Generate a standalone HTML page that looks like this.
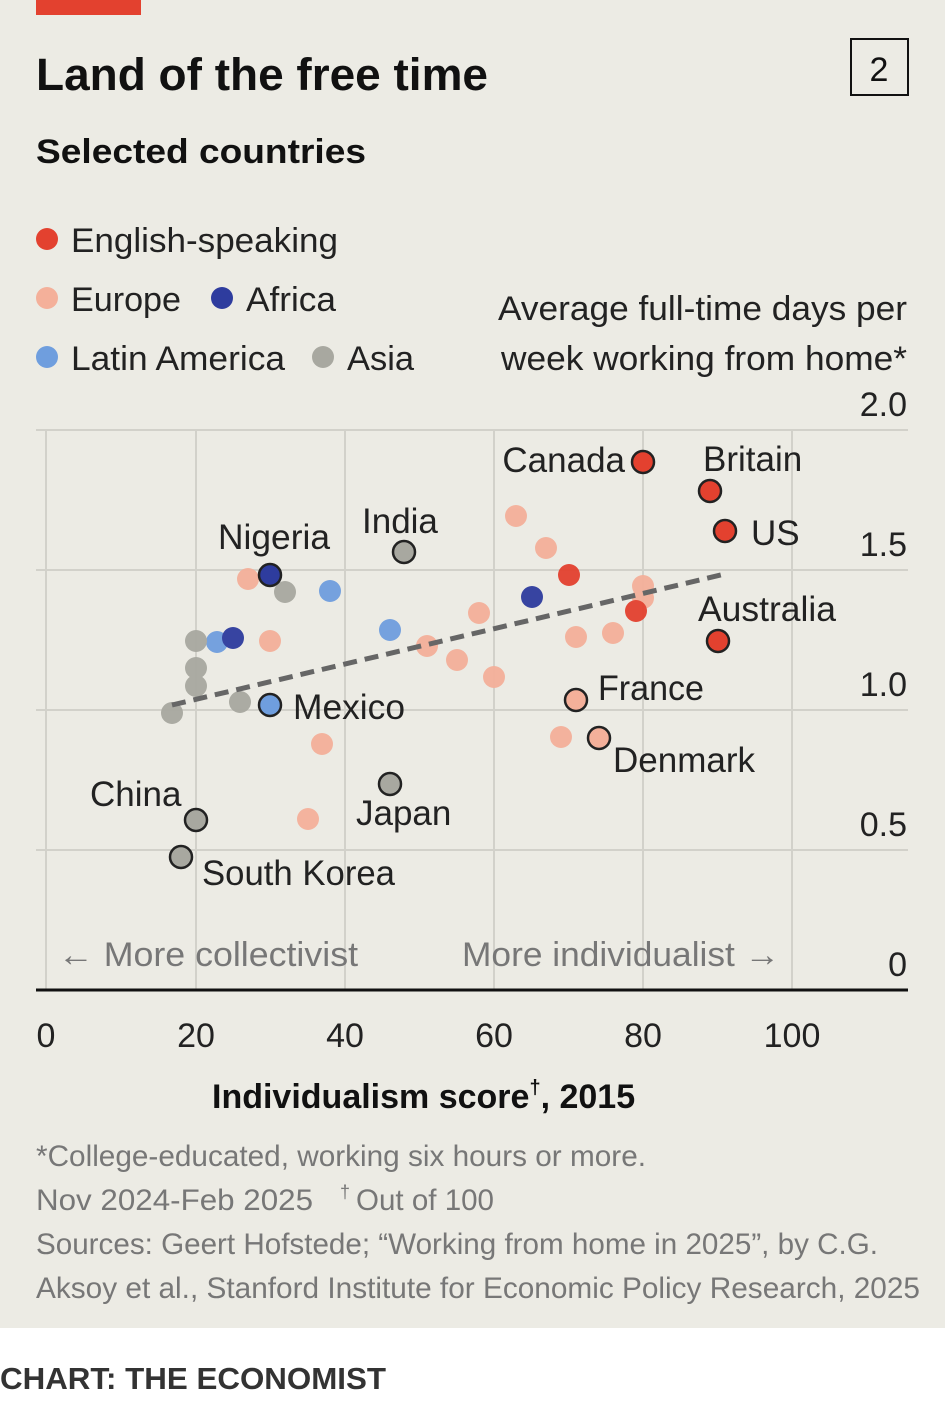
<!DOCTYPE html>
<html><head><meta charset="utf-8"><style>
body{margin:0;width:945px;height:1412px;background:#fff;font-family:"Liberation Sans",sans-serif;overflow:hidden}
</style></head><body>
<svg width="945" height="1412" xmlns="http://www.w3.org/2000/svg" font-family="Liberation Sans, sans-serif">
<rect x="0" y="0" width="945" height="1328" fill="#ecebe4"/>
<rect x="36" y="0" width="105" height="15" fill="#e3412f"/>
<text x="36" y="90" font-size="45" font-weight="bold" fill="#111" textLength="452" lengthAdjust="spacingAndGlyphs">Land of the free time</text>
<rect x="851" y="39" width="57" height="56" fill="none" stroke="#111" stroke-width="2"/>
<text x="879" y="81" font-size="34" text-anchor="middle" fill="#111">2</text>
<text x="36" y="163" font-size="34" font-weight="bold" fill="#111" textLength="330" lengthAdjust="spacingAndGlyphs">Selected countries</text>
<g font-size="34" fill="#222">
<circle cx="47" cy="239" r="11" fill="#e3412f"/><text x="71" y="252" textLength="267" lengthAdjust="spacingAndGlyphs">English-speaking</text>
<circle cx="47" cy="298" r="11" fill="#f4b09a"/><text x="71" y="311" textLength="110" lengthAdjust="spacingAndGlyphs">Europe</text>
<circle cx="222" cy="298" r="11" fill="#2e3c9e"/><text x="246" y="311" textLength="90" lengthAdjust="spacingAndGlyphs">Africa</text>
<circle cx="47" cy="357" r="11" fill="#6f9ede"/><text x="71" y="370" textLength="214" lengthAdjust="spacingAndGlyphs">Latin America</text>
<circle cx="323" cy="357" r="11" fill="#a8a8a0"/><text x="347" y="370" textLength="67" lengthAdjust="spacingAndGlyphs">Asia</text>
<text x="498" y="320" textLength="409" lengthAdjust="spacingAndGlyphs">Average full-time days per</text>
<text x="501" y="370" textLength="406" lengthAdjust="spacingAndGlyphs">week working from home*</text>
</g>
<g stroke="#d2d1ca" stroke-width="2">
<line x1="36" y1="430" x2="908" y2="430"/><line x1="36" y1="570" x2="908" y2="570"/>
<line x1="36" y1="710" x2="908" y2="710"/><line x1="36" y1="850" x2="908" y2="850"/>
<line x1="46" y1="430" x2="46" y2="990"/><line x1="196" y1="430" x2="196" y2="990"/>
<line x1="345" y1="430" x2="345" y2="990"/><line x1="494" y1="430" x2="494" y2="990"/>
<line x1="643" y1="430" x2="643" y2="990"/><line x1="792" y1="430" x2="792" y2="990"/>
</g>
<line x1="36" y1="990" x2="908" y2="990" stroke="#111" stroke-width="3"/>
<g font-size="34" fill="#222" text-anchor="end">
<text x="907" y="416">2.0</text><text x="907" y="556">1.5</text><text x="907" y="696">1.0</text>
<text x="907" y="836">0.5</text><text x="907" y="976">0</text>
</g>
<g font-size="34" fill="#222" text-anchor="middle">
<text x="46" y="1047">0</text><text x="196" y="1047">20</text><text x="345" y="1047">40</text>
<text x="494" y="1047">60</text><text x="643" y="1047">80</text><text x="792" y="1047">100</text>
</g>
<text x="212" y="1108" font-size="34" font-weight="bold" fill="#111">Individualism score<tspan font-size="20" dy="-14">†</tspan><tspan dy="14">, 2015</tspan></text>
<g font-size="34" fill="#777">
<text x="58" y="966" textLength="300" lengthAdjust="spacingAndGlyphs">← More collectivist</text>
<text x="462" y="966" textLength="318" lengthAdjust="spacingAndGlyphs">More individualist →</text>
</g>
<g opacity="0.95">
<g fill="#f4b09a">
<circle cx="248" cy="579" r="11"/><circle cx="270" cy="641" r="11"/><circle cx="322" cy="744" r="11"/><circle cx="308" cy="819" r="11"/>
<circle cx="516" cy="516" r="11"/><circle cx="546" cy="548" r="11"/><circle cx="479" cy="613" r="11"/><circle cx="427" cy="646" r="11"/>
<circle cx="457" cy="660" r="11"/><circle cx="494" cy="677" r="11"/><circle cx="576" cy="637" r="11"/><circle cx="613" cy="633" r="11"/>
<circle cx="643" cy="586" r="11"/><circle cx="643" cy="598" r="11"/><circle cx="561" cy="737" r="11"/>
</g>
<g fill="#e3412f"><circle cx="569" cy="575" r="11"/><circle cx="636" cy="611" r="11"/></g>
<g fill="#6f9ede"><circle cx="217" cy="642" r="11"/><circle cx="330" cy="591" r="11"/><circle cx="390" cy="630" r="11"/></g>
<g fill="#2e3c9e"><circle cx="233" cy="638" r="11"/><circle cx="532" cy="597" r="11"/></g>
<g fill="#a8a8a0"><circle cx="196" cy="641" r="11"/><circle cx="196" cy="668" r="11"/><circle cx="196" cy="686" r="11"/><circle cx="172" cy="713" r="11"/><circle cx="240" cy="702" r="11"/><circle cx="285" cy="592" r="11"/></g>
</g>
<line x1="172" y1="705" x2="725" y2="574" stroke="#666" stroke-width="5" stroke-dasharray="14,8"/>
<g stroke="#222" stroke-width="2.5">
<circle cx="643" cy="462" r="11" fill="#e3412f"/><circle cx="710" cy="491" r="11" fill="#e3412f"/>
<circle cx="725" cy="531" r="11" fill="#e3412f"/><circle cx="718" cy="641" r="11" fill="#e3412f"/>
<circle cx="404" cy="552" r="11" fill="#a8a8a0"/><circle cx="270" cy="575" r="11" fill="#2e3c9e"/>
<circle cx="270" cy="705" r="11" fill="#6f9ede"/><circle cx="576" cy="700" r="11" fill="#f4b09a"/>
<circle cx="599" cy="738" r="11" fill="#f4b09a"/><circle cx="390" cy="784" r="11" fill="#a8a8a0"/>
<circle cx="196" cy="820" r="11" fill="#a8a8a0"/><circle cx="181" cy="857" r="11" fill="#a8a8a0"/>
</g>
<g font-size="35" fill="#222">
<text x="625" y="472" text-anchor="end">Canada</text>
<text x="703" y="471">Britain</text>
<text x="751" y="545">US</text>
<text x="698" y="621" textLength="138" lengthAdjust="spacingAndGlyphs">Australia</text>
<text x="362" y="533">India</text>
<text x="218" y="549" textLength="112" lengthAdjust="spacingAndGlyphs">Nigeria</text>
<text x="293" y="719" textLength="112" lengthAdjust="spacingAndGlyphs">Mexico</text>
<text x="598" y="700" textLength="106" lengthAdjust="spacingAndGlyphs">France</text>
<text x="613" y="772" textLength="142" lengthAdjust="spacingAndGlyphs">Denmark</text>
<text x="356" y="825">Japan</text>
<text x="90" y="806">China</text>
<text x="202" y="885" textLength="193" lengthAdjust="spacingAndGlyphs">South Korea</text>
</g>
<g font-size="30" fill="#777">
<text x="36" y="1166" textLength="610" lengthAdjust="spacingAndGlyphs">*College-educated, working six hours or more.</text>
<text x="36" y="1210" textLength="277" lengthAdjust="spacingAndGlyphs">Nov 2024-Feb 2025</text>
<text x="340" y="1198" font-size="18">†</text>
<text x="356" y="1210" textLength="138" lengthAdjust="spacingAndGlyphs">Out of 100</text>
<text x="36" y="1254" textLength="842" lengthAdjust="spacingAndGlyphs">Sources: Geert Hofstede; “Working from home in 2025”, by C.G.</text>
<text x="36" y="1298" textLength="884" lengthAdjust="spacingAndGlyphs">Aksoy et al., Stanford Institute for Economic Policy Research, 2025</text>
</g>
<text x="0" y="1389" font-size="31" font-weight="bold" fill="#333" textLength="386" lengthAdjust="spacingAndGlyphs">CHART: THE ECONOMIST</text>
</svg>
</body></html>
